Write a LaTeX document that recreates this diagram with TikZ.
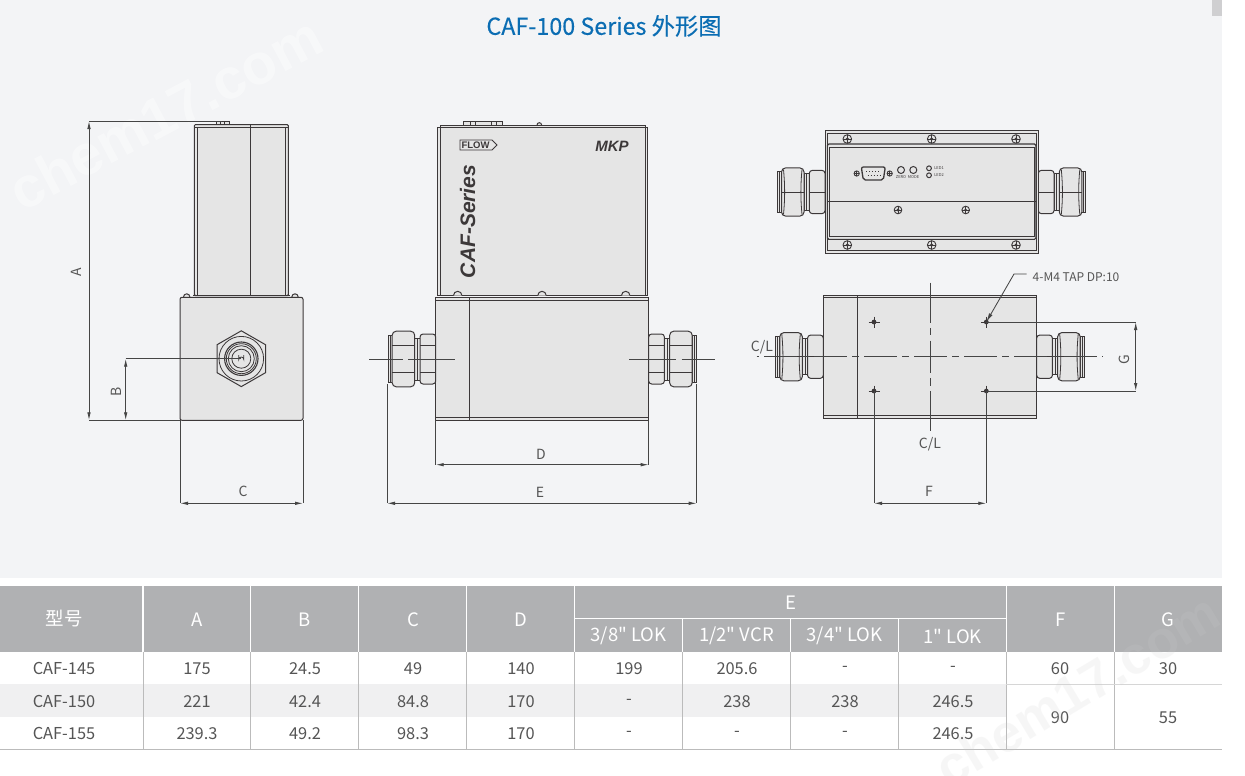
\documentclass[tikz,border=0pt]{standalone}
\usepackage{fontspec}
\setmainfont{Noto Sans CJK SC}[Ligatures=TeXOff]
\newfontfamily\titlefont{Noto Sans CJK SC}[FakeBold=0.25, Ligatures=TeXOff]
\newfontfamily\logofont{Liberation Sans}
\usetikzlibrary{arrows.meta}
\definecolor{pagegray}{HTML}{F3F4F6}
\definecolor{bodygray}{HTML}{E5E5E5}
\definecolor{linedark}{HTML}{3C3839}
\definecolor{dimdark}{HTML}{454545}
\definecolor{headgray}{HTML}{B0B1B3}
\definecolor{rowgray}{HTML}{F0F0F1}
\definecolor{rulegray}{HTML}{BBBBBB}
\definecolor{textgray}{HTML}{555555}
\definecolor{titleblue}{HTML}{0B6DB3}
\tikzset{
  part/.style={draw=linedark, line width=1pt, fill=bodygray},
  thin part/.style={draw=linedark, line width=0.8pt},
  dimline/.style={draw=dimdark, line width=0.85pt},
  dimarrow/.style={dimline, {Latex[length=8pt,width=3.5pt]}-{Latex[length=8pt,width=3.5pt]}},
  centerline/.style={draw=dimdark, line width=0.85pt},
  dimlabel/.style={text=textgray, font=\fontsize{14}{14}\selectfont},
  cell/.style={text=textgray, font=\fontsize{16.4}{16.4}\selectfont},
  headcell/.style={text=white, font=\fontsize{18.5}{18.5}\selectfont},
  tinylabel/.style={text=linedark, font=\fontsize{4}{4}\selectfont}
}
\newcommand{\fitting}[6]{
  \begin{scope}[shift={(#1,#3)}, xscale=#2, yscale=#4]
    \draw [part] (43.5,-23.5) rectangle (47.5,23.5);
    \draw [thin part] (45.5,-23.5) -- (45.5,23.5);
    \draw [part] (15.7,-21) rectangle (21,21);
    \draw [thin part] (18.3,-21) -- (18.3,21);
    \draw [part, rounded corners=3pt] (0,-25) rectangle (15.7,25);
    \draw [part, rounded corners=4pt] (21,-27.8) rectangle (43.5,27.8);
    \draw [thin part, draw opacity=#6] (23,-26) .. controls (24.5,-8) and (24.5,8) .. (23,26);
    \draw [thin part, draw opacity=#6] (41.5,-26) .. controls (40,-8) and (40,8) .. (41.5,26);
    \foreach \face in {#5} {
      \draw [thin part] (0,\face) -- (15.7,\face);
      \draw [thin part] (21,\face) -- (43.5,\face);
    }
  \end{scope}
}
\newcommand{\screw}[3]{
  \draw [line width=0.9pt, draw=linedark, fill=bodygray] (#1,#2) circle (#3);
  \draw [line width=0.5pt, draw=linedark] (#1-#3,#2) -- (#1+#3,#2);
  \draw [line width=0.5pt, draw=linedark] (#1,#2-#3) -- (#1,#2+#3);
  \fill [linedark] (#1,#2) circle (#3*0.4);
}
\newcommand{\taphole}[2]{
  \draw [thin part] (#1-5.5,#2) -- (#1+5.5,#2);
  \draw [thin part] (#1,#2-5.5) -- (#1,#2+5.5);
  \fill [linedark] (#1,#2) circle (2.4);
}
\begin{document}
\begin{tikzpicture}[x=1pt, y=-1pt]
        \tikzstyle{every node}+=[inner sep=0pt]
        \useasboundingbox (0,0) rectangle (1245,776);
        \fill [white] (0,0) rectangle (1245,776);
        \fill [pagegray] (0,0) rectangle (1222,578);
        \fill [black!15!pagegray] (1212,0) rectangle (1222,16);
        \node [rotate=28, text=white, opacity=0.4, font=\logofont\bfseries\fontsize{57}{57}\selectfont] (markTop) at (165,113) {chem17.com};
        \node [text=titleblue, font=\titlefont\fontsize{23.3}{23.3}\selectfont] (title) at (604,26) {CAF-100 Series 外形图};

        \draw [part] (216,121) rectangle (229,125);
        \draw [thin part] (220,121) -- (220,125);
        \draw [thin part] (224.5,121) -- (224.5,125);
        \draw [part, rounded corners=1pt] (194.3,124.7) rectangle (288.3,295.5);
        \draw [thin part] (197.3,127) -- (197.3,295.5);
        \draw [thin part] (285.7,127) -- (285.7,295.5);
        \draw [thin part] (194.3,127) -- (288.3,127);
        \draw [thin part] (250.3,124.7) -- (250.3,295.5);
        \draw [part] (183.5,297) arc (180:360:3.2);
        \draw [part] (291.8,297) arc (180:360:3.2);
        \draw [thin part] (193,295) -- (201,295);
        \draw [thin part] (210,295) -- (216,295);
        \draw [thin part] (266,295) -- (272,295);
        \draw [thin part] (281,295) -- (290,295);
        \draw [part, rounded corners=2pt] (180,297.3) rectangle (303,420.3);
        \draw [part] (241.3,330.8) -- (265.5,344.7) -- (265.5,372.7) -- (241.3,386.6) -- (217.1,372.7) -- (217.1,344.7) -- cycle;
        \draw [thin part] (241.3,358.7) circle (22.3);
        \draw [line width=1.1pt, draw=linedark] (241.3,358.7) circle (16.7);
        \draw [thin part] (241.3,358.7) circle (15);
        \draw [thin part] (241.3,358.7) circle (13);
        \draw [thin part] (241.3,358.7) circle (9.5);
        \draw [thin part] (238.8,355) -- (238.8,359.5) arc (180:360:2.5) -- (243.8,355);

        \coordinate (aTop) at (89,121);
        \coordinate (aBot) at (89,420.3);
        \coordinate (aTopEnd) at (222,121);
        \coordinate (blockLeftBot) at (180,420.3);
        \coordinate (bTop) at (125.7,358.7);
        \coordinate (bBot) at (125.7,420.3);
        \coordinate (bTopEnd) at (241.3,358.7);
        \coordinate (cLeft) at (180,503.3);
        \coordinate (cRight) at (303,503.3);
        \coordinate (blockRightBot) at (303,420.3);
        \draw [dimline] (aTop) -- (aTopEnd);
        \draw [dimline] (aBot) -- (blockLeftBot);
        \draw [dimline] (bTop) -- (bTopEnd);
        \draw [dimline] (blockLeftBot) -- (cLeft);
        \draw [dimline] (blockRightBot) -- (cRight);
        \draw [dimarrow] (aTop) -- (aBot);
        \draw [dimarrow] (bTop) -- (bBot);
        \draw [dimarrow] (cLeft) -- (cRight);
        \node [dimlabel, rotate=90] (labelA) at (76,272) {A};
        \node [dimlabel, rotate=90] (labelB) at (116,392) {B};
        \node [dimlabel] (labelC) at (243,491.5) {C};

        \draw [part] (463.7,121) rectangle (502.7,125);
        \draw [thin part] (470,121) -- (470,125);
        \draw [thin part] (475,121) -- (475,125);
        \draw [thin part] (491,121) -- (491,125);
        \draw [thin part] (496,121) -- (496,125);
        \draw [part] (537,125) arc (180:360:2.3);
        \draw [part] (440,125) rectangle (645,127.3);
        \draw [part] (437.7,127.3) rectangle (647,295.3);
        \draw [thin part] (440,127.3) -- (440,295.3);
        \draw [thin part] (645,127.3) -- (645,295.3);
        \draw [part] (453.5,295.5) arc (180:360:4.2);
        \draw [part] (537.8,295.5) arc (180:360:4.2);
        \draw [part] (621.5,295.5) arc (180:360:4.2);
        \draw [line width=0.9pt, draw=linedark] (460,140) -- (492,140) -- (497,145) -- (492,150) -- (460,150) -- cycle;
        \node [text=linedark, font=\logofont\bfseries\fontsize{9.5}{9.5}\selectfont] (flow) at (475.5,145) {FLOW};
        \node [text=linedark, font=\logofont\bfseries\itshape\fontsize{15}{15}\selectfont] (logo) at (612,146.2) {MKP};
        \node [rotate=90, text=linedark, font=\logofont\bfseries\itshape\fontsize{21}{21}\selectfont] (series) at (467.5,221.5) {CAF-Series};
        \draw [part] (435.7,297.3) rectangle (648.7,420.3);
        \draw [thin part] (435.7,300.7) -- (648.7,300.7);
        \draw [thin part] (435.7,417.7) -- (648.7,417.7);
        \draw [thin part] (469.3,297.3) -- (469.3,420.3);
        \fitting{435.7}{-1}{359}{1}{-13.4,13.4}{0}
        \fitting{648.7}{1}{359}{1}{-13.4,13.4}{0}
        \draw [centerline] (369,359) -- (402.7,359);
        \draw [centerline] (408.3,359) -- (455,359);
        \draw [centerline] (629.3,359) -- (676,359);
        \draw [centerline] (681.7,359) -- (715,359);

        \coordinate (dLeft) at (435.7,464.7);
        \coordinate (dRight) at (648.7,464.7);
        \coordinate (dLeftTop) at (435.7,420.3);
        \coordinate (dRightTop) at (648.7,420.3);
        \coordinate (eLeft) at (387,503.3);
        \coordinate (eRight) at (696.7,503.3);
        \coordinate (eLeftTop) at (387,384);
        \coordinate (eRightTop) at (696.7,384);
        \draw [dimline] (dLeftTop) -- (dLeft);
        \draw [dimline] (dRightTop) -- (dRight);
        \draw [dimline] (eLeftTop) -- (eLeft);
        \draw [dimline] (eRightTop) -- (eRight);
        \draw [dimarrow] (dLeft) -- (dRight);
        \draw [dimarrow] (eLeft) -- (eRight);
        \node [dimlabel] (labelD) at (541,454.5) {D};
        \node [dimlabel] (labelE) at (540,492.5) {E};

        \fitting{825}{-1}{192}{0.865}{0}{1}
        \fitting{1038.3}{1}{192}{0.865}{0}{1}
        \draw [part] (825,130.3) rectangle (1038.3,253.7);
        \draw [thin part] (827.3,133.3) rectangle (1036,250.7);
        \draw [part, line width=1.1pt, rounded corners=1.5pt] (827.3,144) rectangle (1036,239.3);
        \draw [thin part] (829.3,147.3) -- (1034,147.3);
        \draw [thin part] (829.3,236.7) -- (1034,236.7);
        \draw [thin part] (829.3,147.3) -- (829.3,236.7);
        \draw [thin part] (1034,147.3) -- (1034,236.7);
        \draw [thin part] (827.3,201) -- (1036,201);
        \screw{847.3}{139}{4.3}
        \screw{931.7}{139}{4.3}
        \screw{1016}{139}{4.3}
        \screw{847.3}{245}{4.3}
        \screw{931.7}{245}{4.3}
        \screw{1016}{245}{4.3}
        \screw{898}{210}{3.8}
        \screw{965.7}{210}{3.8}
        \screw{856.7}{173.5}{2.6}
        \screw{889.7}{173.5}{2.6}
        \draw [line width=1.3pt, draw=linedark, fill=bodygray, rounded corners=2pt] (861.3,167) -- (885.3,167) -- (883.3,180) -- (863.3,180) -- cycle;
        \draw [line width=0.9pt, draw=linedark, dash pattern=on 1pt off 2pt] (866,171.3) -- (881,171.3);
        \draw [line width=0.9pt, draw=linedark, dash pattern=on 1pt off 2pt] (867.5,175.3) -- (880,175.3);
        \draw [line width=1pt, draw=linedark] (901,170) circle (3.5);
        \draw [line width=1pt, draw=linedark] (913.3,170) circle (3.5);
        \draw [line width=1pt, draw=linedark] (929,168.3) circle (2.4);
        \draw [line width=1pt, draw=linedark] (929,175.3) circle (2.4);
        \node [tinylabel] (zeroLabel) at (901,177.5) {ZERO};
        \node [tinylabel] (modeLabel) at (913.5,177.5) {MODE};
        \node [tinylabel] (ledOne) at (939,168.3) {LED1};
        \node [tinylabel] (ledTwo) at (939,175.3) {LED2};

        \fitting{823.3}{-1}{356.7}{0.865}{0}{1}
        \fitting{1036.7}{1}{356.7}{0.865}{0}{1}
        \draw [part] (823.3,295) rectangle (1036.7,418.3);
        \draw [thin part] (823.3,297.7) -- (1036.7,297.7);
        \draw [thin part] (823.3,415.7) -- (1036.7,415.7);
        \draw [thin part] (857.7,295) -- (857.7,418.3);
        \draw [centerline, dash pattern=on 32.7pt off 5.3pt on 7pt off 5pt, dash phase=42.7pt] (756.7,356.7) -- (1103.3,356.7);
        \draw [centerline, dash pattern=on 40pt off 5.6pt on 6.7pt off 5.6pt on 32pt off 5.6pt on 7.4pt off 5.3pt on 40pt off 5pt] (930,282.7) -- (930,430.7);
        \taphole{874}{322}
        \taphole{986.3}{322}
        \taphole{874}{391}
        \taphole{986.3}{391}
        \node [dimlabel] (clLeft) at (762,347.5) {C/L};
        \node [dimlabel] (clBottom) at (930,444) {C/L};
        \node [dimlabel, anchor=west, font=\fontsize{12}{12}\selectfont] (tapLabel) at (1032.5,277) {4-M4 TAP DP:10};

        \coordinate (holeTop) at (986.3,322);
        \coordinate (holeBot) at (986.3,391);
        \coordinate (holeLeft) at (874,391);
        \coordinate (leaderKnee) at (1014,274);
        \coordinate (leaderEnd) at (1026.7,274);
        \coordinate (gTop) at (1135.7,322);
        \coordinate (gBot) at (1135.7,391);
        \coordinate (fLeft) at (874,503.3);
        \coordinate (fRight) at (986.3,503.3);
        \draw [dimline, {Latex[length=9pt,width=4pt]}-] (holeTop) -- (leaderKnee) -- (leaderEnd);
        \draw [dimline] (holeTop) -- (gTop);
        \draw [dimline] (holeBot) -- (gBot);
        \draw [dimline] (holeLeft) -- (fLeft);
        \draw [dimline] (holeBot) -- (fRight);
        \draw [dimarrow] (gTop) -- (gBot);
        \draw [dimarrow] (fLeft) -- (fRight);
        \node [dimlabel, rotate=90] (labelG) at (1124,360) {G};
        \node [dimlabel] (labelF) at (929,491.5) {F};

        \fill [headgray] (0,586) rectangle (1222,651.7);
        \fill [rowgray] (0,684) rectangle (1006.3,716.7);
        \draw [white, line width=1.1pt] (143,586) -- (143,651.7);
        \draw [white, line width=1.1pt] (250.7,586) -- (250.7,651.7);
        \draw [white, line width=1.1pt] (358.6,586) -- (358.6,651.7);
        \draw [white, line width=1.1pt] (466.6,586) -- (466.6,651.7);
        \draw [white, line width=1.1pt] (574.5,586) -- (574.5,651.7);
        \draw [white, line width=1.1pt] (1006.3,586) -- (1006.3,651.7);
        \draw [white, line width=1.1pt] (1114.2,586) -- (1114.2,651.7);
        \draw [white, line width=1.1pt] (682.6,618.3) -- (682.6,651.7);
        \draw [white, line width=1.1pt] (790.6,618.3) -- (790.6,651.7);
        \draw [white, line width=1.1pt] (898.6,618.3) -- (898.6,651.7);
        \draw [white, line width=1.1pt] (574.5,618.3) -- (1006.3,618.3);
        \draw [rulegray, line width=1pt] (143,651.7) -- (143,749);
        \draw [rulegray, line width=1pt] (250.7,651.7) -- (250.7,749);
        \draw [rulegray, line width=1pt] (358.6,651.7) -- (358.6,749);
        \draw [rulegray, line width=1pt] (466.6,651.7) -- (466.6,749);
        \draw [rulegray, line width=1pt] (574.5,651.7) -- (574.5,749);
        \draw [rulegray, line width=1pt] (682.6,651.7) -- (682.6,749);
        \draw [rulegray, line width=1pt] (790.6,651.7) -- (790.6,749);
        \draw [rulegray, line width=1pt] (898.6,651.7) -- (898.6,749);
        \draw [rulegray, line width=1pt] (1006.3,651.7) -- (1006.3,749);
        \draw [rulegray, line width=1pt] (1114.2,651.7) -- (1114.2,749);
        \draw [rulegray!60, line width=1pt] (1006.3,684.3) -- (1222,684.3);
        \draw [rulegray, line width=1.3pt] (0,749.3) -- (1222,749.3);

        \node [headcell] (headModel) at (64,619) {型号};
        \node [headcell] (headA) at (197.5,619.5) {A};
        \node [headcell] (headB) at (305,619.5) {B};
        \node [headcell] (headC) at (413,619.5) {C};
        \node [headcell] (headD) at (521,619.5) {D};
        \node [headcell] (headE) at (790.5,602.5) {E};
        \node [headcell] (headEa) at (628.5,636) {3/8" LOK};
        \node [headcell] (headEb) at (736.5,636) {1/2" VCR};
        \node [headcell] (headEc) at (844.5,636) {3/4" LOK};
        \node [headcell] (headEd) at (952.5,636) {1" LOK};
        \node [headcell] (headF) at (1060.5,619.5) {F};
        \node [headcell] (headG) at (1168,619.5) {G};

        \node [cell] (r1Model) at (64,668.5) {CAF-145};
        \node [cell] (r1A) at (197,668.5) {175};
        \node [cell] (r1B) at (305,668.5) {24.5};
        \node [cell] (r1C) at (413,668.5) {49};
        \node [cell] (r1D) at (521,668.5) {140};
        \node [cell] (r1Ea) at (629,668.5) {199};
        \node [cell] (r1Eb) at (737,668.5) {205.6};
        \node [cell] (r1Ec) at (845,668.5) {-};
        \node [cell] (r1Ed) at (953,668.5) {-};
        \node [cell] (r1F) at (1060,668.5) {60};
        \node [cell] (r1G) at (1168,668.5) {30};
        \node [cell] (r2Model) at (64,701.5) {CAF-150};
        \node [cell] (r2A) at (197,701.5) {221};
        \node [cell] (r2B) at (305,701.5) {42.4};
        \node [cell] (r2C) at (413,701.5) {84.8};
        \node [cell] (r2D) at (521,701.5) {170};
        \node [cell] (r2Ea) at (629,701.5) {-};
        \node [cell] (r2Eb) at (737,701.5) {238};
        \node [cell] (r2Ec) at (845,701.5) {238};
        \node [cell] (r2Ed) at (953,701.5) {246.5};
        \node [cell] (r2F) at (1060,717.5) {90};
        \node [cell] (r2G) at (1168,717.5) {55};
        \node [cell] (r3Model) at (64,733.5) {CAF-155};
        \node [cell] (r3A) at (197,733.5) {239.3};
        \node [cell] (r3B) at (305,733.5) {49.2};
        \node [cell] (r3C) at (413,733.5) {98.3};
        \node [cell] (r3D) at (521,733.5) {170};
        \node [cell] (r3Ea) at (629,733.5) {-};
        \node [cell] (r3Eb) at (737,733.5) {-};
        \node [cell] (r3Ec) at (845,733.5) {-};
        \node [cell] (r3Ed) at (953,733.5) {246.5};
        \node [rotate=31, text=black!20, opacity=0.16, font=\logofont\bfseries\fontsize{53}{53}\selectfont] (markBot) at (1077,690) {chem17.com};
\end{tikzpicture}
\end{document}
